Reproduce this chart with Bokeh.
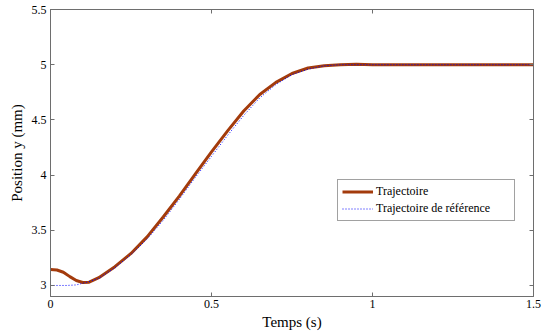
from bokeh.plotting import figure
from bokeh.models import LinearAxis, FixedTicker, Legend, LegendItem, Range1d, CustomJSTickFormatter
from bokeh.embed import file_html
from bokeh.resources import INLINE

# Data
t_traj = [0.0, 0.02, 0.04, 0.06, 0.08, 0.10, 0.12, 0.15, 0.20, 0.25, 0.30, 0.35, 0.40,
          0.45, 0.50, 0.55, 0.60, 0.65, 0.70, 0.75, 0.80, 0.85, 0.90, 0.95, 1.0, 1.25, 1.5]
y_traj = [3.145, 3.14, 3.12, 3.08, 3.045, 3.027, 3.03, 3.07, 3.17, 3.29, 3.44, 3.62, 3.81,
          4.01, 4.21, 4.40, 4.58, 4.73, 4.84, 4.92, 4.97, 4.99, 5.0, 5.005, 5.0, 5.0, 5.0]

t_ref = [0.0, 0.05, 0.08, 0.10, 0.12, 0.15, 0.20, 0.25, 0.30, 0.35, 0.40, 0.45, 0.50,
         0.55, 0.60, 0.65, 0.70, 0.75, 0.80, 0.85, 0.90, 1.0, 1.25, 1.5]
y_ref = [3.0, 3.0, 3.005, 3.02, 3.035, 3.065, 3.16, 3.28, 3.42, 3.59, 3.78, 3.98, 4.17,
         4.36, 4.54, 4.70, 4.82, 4.91, 4.96, 4.99, 5.0, 5.0, 5.0, 5.0]

x_ticks = [0, 0.5, 1, 1.5]
y_ticks = [3, 3.5, 4, 4.5, 5, 5.5]
x_label = "Temps (s)"
y_label = "Position y (mm)"
labels = ["Trajectoire", "Trajectoire de référence"]

FONT = "Liberation Serif"
AX_COL = "#6e6e6e"

p = figure(frame_width=483, frame_height=287, output_backend="svg", toolbar_location=None,
           x_range=Range1d(0, 1.5), y_range=Range1d(2.9, 5.5),
           min_border_left=50, min_border_right=19, min_border_top=9, min_border_bottom=39)
p.grid.visible = False
p.outline_line_color = AX_COL
p.background_fill_color = "white"
p.border_fill_color = "white"

def style(ax, ticks, show_labels=True):
    ax.ticker = FixedTicker(ticks=ticks)
    ax.major_tick_in = 4
    ax.major_tick_out = 0
    ax.minor_tick_line_color = None
    ax.axis_line_color = AX_COL
    ax.major_tick_line_color = AX_COL
    ax.major_label_text_font = FONT
    ax.major_label_text_font_size = "12px"
    ax.major_label_text_color = "black"
    ax.axis_label_text_font = FONT
    ax.axis_label_text_font_style = "normal"
    ax.axis_label_text_font_size = "15px"
    ax.axis_label_text_color = "black"
    if not show_labels:
        ax.formatter = CustomJSTickFormatter(code="return '';")
        ax.major_label_standoff = 0

style(p.xaxis[0], x_ticks)
style(p.yaxis[0], y_ticks)
p.xaxis[0].axis_label = x_label
p.yaxis[0].axis_label = y_label
p.xaxis[0].major_label_standoff = 3
p.xaxis[0].axis_label_standoff = 3
p.yaxis[0].major_label_standoff = 4
p.yaxis[0].axis_label_standoff = 4

top = LinearAxis()
style(top, x_ticks, show_labels=False)
p.add_layout(top, "above")
right = LinearAxis()
style(right, y_ticks, show_labels=False)
p.add_layout(right, "right")

r1 = p.line(t_traj, y_traj, line_color="#A33B0C", line_width=3)
r2 = p.line(t_ref, y_ref, line_color="#0000FF", line_width=1, line_dash="1 2")

legend = Legend(items=[LegendItem(label=labels[0], renderers=[r1]),
                       LegendItem(label=labels[1], renderers=[r2])],
                location=(287, 75))
legend.label_text_font = FONT
legend.label_text_font_size = "12px"
legend.label_text_color = "black"
legend.border_line_color = "#444444"
legend.border_line_width = 1
legend.padding = 4
legend.spacing = 2
legend.margin = 0
legend.glyph_width = 31
legend.glyph_height = 15
legend.label_standoff = 3
legend.label_height = 15
legend.label_width = 134
p.add_layout(legend, "center")

open("out.html", "w").write(file_html(p, INLINE))
